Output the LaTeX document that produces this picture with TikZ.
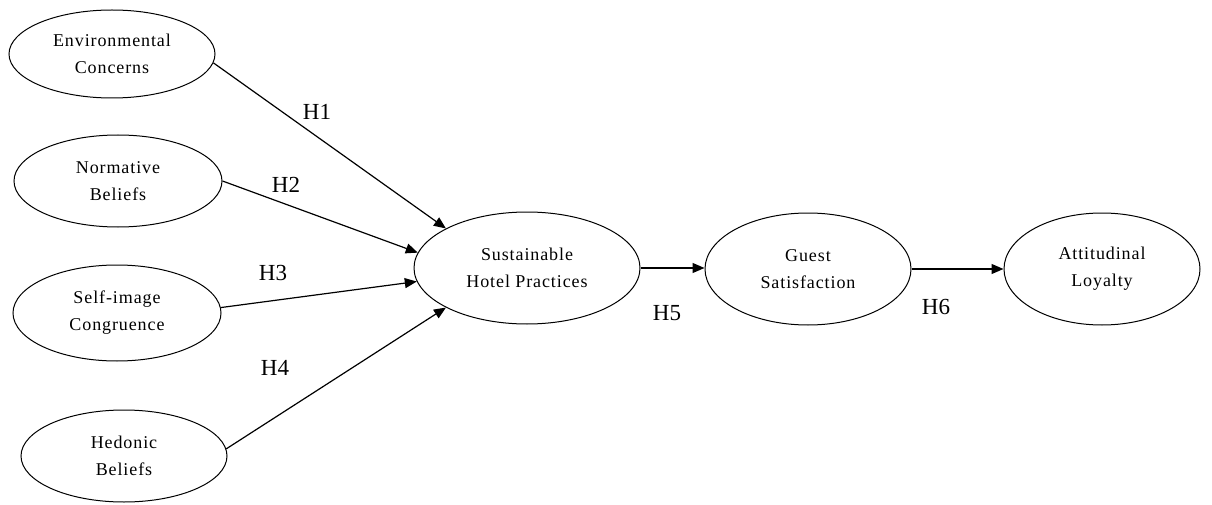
\documentclass[tikz,border=0pt]{standalone}
\usepackage{fontspec}
\setmainfont{Liberation Serif}
\newfontfamily\boxfont[LetterSpace=5]{Liberation Serif}
\usetikzlibrary{shapes.geometric,arrows.meta}
\tikzset{
  construct/.style={draw, ellipse, line width=1pt, inner sep=0pt, align=center,
    font=\boxfont\fontsize{18}{27}\selectfont},
  link/.style={line width=1.2pt, -{Triangle[length=12pt,width=10pt]}},
  hlabel/.style={font=\fontsize{23}{26}\selectfont, inner sep=0pt}
}
\begin{document}
\begin{tikzpicture}[x=1pt,y=-1pt]
\useasboundingbox (0,0) rectangle (1212,505);
\node[construct, minimum width=206pt, minimum height=88pt] (env) at (112,54) {Environmental\\Concerns};
\node[construct, minimum width=208pt, minimum height=92pt] (norm) at (118,181) {Normative\\Beliefs};
\node[construct, minimum width=208pt, minimum height=96pt] (self) at (117,313) {Self-image\\Congruence};
\node[construct, minimum width=206pt, minimum height=92pt] (hed) at (124,456) {Hedonic\\Beliefs};
\node[construct, minimum width=226pt, minimum height=112pt] (shp) at (527,268) {Sustainable\\Hotel Practices};
\node[construct, minimum width=206pt, minimum height=112pt] (guest) at (808,269) {Guest\\Satisfaction};
\node[construct, minimum width=196pt, minimum height=112pt] (att) at (1102,269) {Attitudinal\\Loyalty};

\draw[link] (env.-5) -- (shp.154);
\draw[link] (norm.east) -- (shp.172);
\draw[link] (self.3) -- (shp.187);
\draw[link] (hed.4) -- (shp.206);
\draw[link] (shp.east) -- (shp.east -| guest.west);
\draw[link] (guest.east) -- (att.west);

\node[hlabel] (h1) at (317,112) {H1};
\node[hlabel] (h2) at (286,185) {H2};
\node[hlabel] (h3) at (273,273) {H3};
\node[hlabel] (h4) at (275,368) {H4};
\node[hlabel] (h5) at (667,313) {H5};
\node[hlabel] (h6) at (936,307) {H6};
\end{tikzpicture}
\end{document}
